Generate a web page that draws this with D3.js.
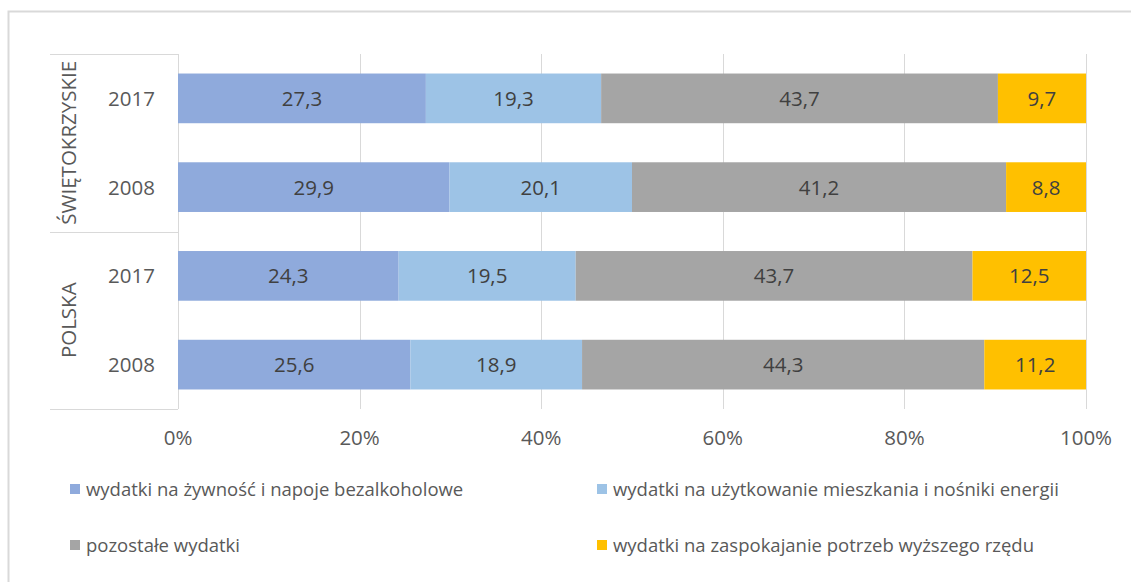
<!DOCTYPE html>
<html>
<head>
<meta charset="utf-8">
<script src="https://cdn.jsdelivr.net/npm/d3@7"></script>
<style>
  html, body { margin: 0; padding: 0; background: #fff; }
  svg { display: block; font-family: "Open Sans", "Noto Sans", "Liberation Sans", sans-serif; }
</style>
</head>
<body>
<svg id="chart" width="1131" height="582"></svg>
<script>
// Regions and years, top to bottom
const regions = ["ŚWIĘTOKRZYSKIE", "POLSKA"];
const years = ["2017", "2008"];
const rowKeys = ["ŚWIĘTOKRZYSKIE|2017", "ŚWIĘTOKRZYSKIE|2008", "POLSKA|2017", "POLSKA|2008"];

// Expense categories (stack order, left to right)
const seriesNames = [
  "wydatki na żywność i napoje bezalkoholowe",
  "wydatki na użytkowanie mieszkania i nośniki energii",
  "pozostałe wydatki",
  "wydatki na zaspokajanie potrzeb wyższego rzędu"
];
const seriesColors = ["#8FAADC", "#9DC3E6", "#A5A5A5", "#FFC000"];

// Shares (%) per row, in rowKeys order
const food    = [27.3, 29.9, 24.3, 25.6];
const housing = [19.3, 20.1, 19.5, 18.9];
const other   = [43.7, 41.2, 43.7, 44.3];
const higher  = [9.7, 8.8, 12.5, 11.2];

const tickValues = [0, 0.2, 0.4, 0.6, 0.8, 1.0];

const svg = d3.select("#chart");

// outer frame
svg.append("rect")
  .attr("x", 8.5).attr("y", 11.5)
  .attr("width", 1140).attr("height", 600)
  .attr("fill", "none").attr("stroke", "#D9D9D9").attr("stroke-width", 2);

const x = d3.scaleLinear().domain([0, 1]).range([178, 1086]);
const y = d3.scaleBand().domain(rowKeys).range([54, 409]).paddingInner(0.44).paddingOuter(0.22);

const rows = rowKeys.map((k, i) => ({
  key: k,
  values: [food[i], housing[i], other[i], higher[i]]
}));

// gridlines
svg.append("g")
  .selectAll("line")
  .data(tickValues)
  .join("line")
  .attr("x1", d => Math.round(x(d)) + 0.5)
  .attr("x2", d => Math.round(x(d)) + 0.5)
  .attr("y1", 54).attr("y2", 409)
  .attr("stroke", "#D9D9D9").attr("stroke-width", 1);

// category axis separators
const sepYs = [54, (y(rowKeys[1]) + y.bandwidth() + y(rowKeys[2])) / 2, 409];
svg.append("g")
  .selectAll("line")
  .data(sepYs)
  .join("line")
  .attr("x1", 50).attr("x2", 178)
  .attr("y1", d => Math.round(d) + 0.5).attr("y2", d => Math.round(d) + 0.5)
  .attr("stroke", "#D9D9D9").attr("stroke-width", 1);

// stacked bars
const stack = rows.map(r => {
  let acc = 0;
  const total = d3.sum(r.values);
  return r.values.map((v, j) => {
    const s = { key: r.key, j, v, x0: acc / total, x1: (acc + v) / total };
    acc += v;
    return s;
  });
}).flat();

const segs = svg.append("g").selectAll("g")
  .data(stack)
  .join("g");

segs.append("rect")
  .attr("x", d => x(d.x0))
  .attr("y", d => y(d.key))
  .attr("width", d => x(d.x1) - x(d.x0))
  .attr("height", y.bandwidth())
  .attr("fill", d => seriesColors[d.j]);

segs.append("text")
  .attr("x", d => (x(d.x0) + x(d.x1)) / 2)
  .attr("y", d => y(d.key) + y.bandwidth() / 2)
  .attr("dy", "0.36em")
  .attr("text-anchor", "middle")
  .attr("font-size", 20.5)
  .attr("fill", "#404040")
  .text(d => d3.format(".1f")(d.v).replace(".", ","));

// x axis tick labels
svg.append("g")
  .selectAll("text")
  .data(tickValues)
  .join("text")
  .attr("x", d => x(d))
  .attr("y", 438)
  .attr("dy", "0.36em")
  .attr("text-anchor", "middle")
  .attr("font-size", 20.5)
  .attr("fill", "#595959")
  .text(d => d3.format(".0%")(d));

// year labels
svg.append("g")
  .selectAll("text")
  .data(rowKeys)
  .join("text")
  .attr("x", 131.5)
  .attr("y", d => y(d) + y.bandwidth() / 2)
  .attr("dy", "0.36em")
  .attr("text-anchor", "middle")
  .attr("font-size", 20.5)
  .attr("fill", "#595959")
  .text(d => d.split("|")[1]);

// region labels (rotated)
regions.forEach(reg => {
  const ks = rowKeys.filter(k => k.startsWith(reg + "|"));
  const cy = (y(ks[0]) + y(ks[ks.length - 1]) + y.bandwidth()) / 2;
  svg.append("text")
    .attr("transform", `translate(69,${cy}) rotate(-90)`)
    .attr("dy", "0.36em")
    .attr("text-anchor", "middle")
    .attr("font-size", 20.5)
    .attr("fill", "#595959")
    .text(reg);
});

// legend
const legendPos = [
  { x: 70, y: 489 }, { x: 597, y: 489 },
  { x: 70, y: 545 }, { x: 597, y: 545 }
];
const leg = svg.append("g").selectAll("g")
  .data(seriesNames)
  .join("g")
  .attr("transform", (d, i) => `translate(${legendPos[i].x},${legendPos[i].y})`);
leg.append("rect")
  .attr("x", 0).attr("y", -5)
  .attr("width", 10).attr("height", 10)
  .attr("fill", (d, i) => seriesColors[i]);
leg.append("text")
  .attr("x", 16).attr("y", 0)
  .attr("dy", "0.36em")
  .attr("font-size", 18.5)
  .attr("fill", "#595959")
  .text(d => d);
</script>
</body>
</html>
